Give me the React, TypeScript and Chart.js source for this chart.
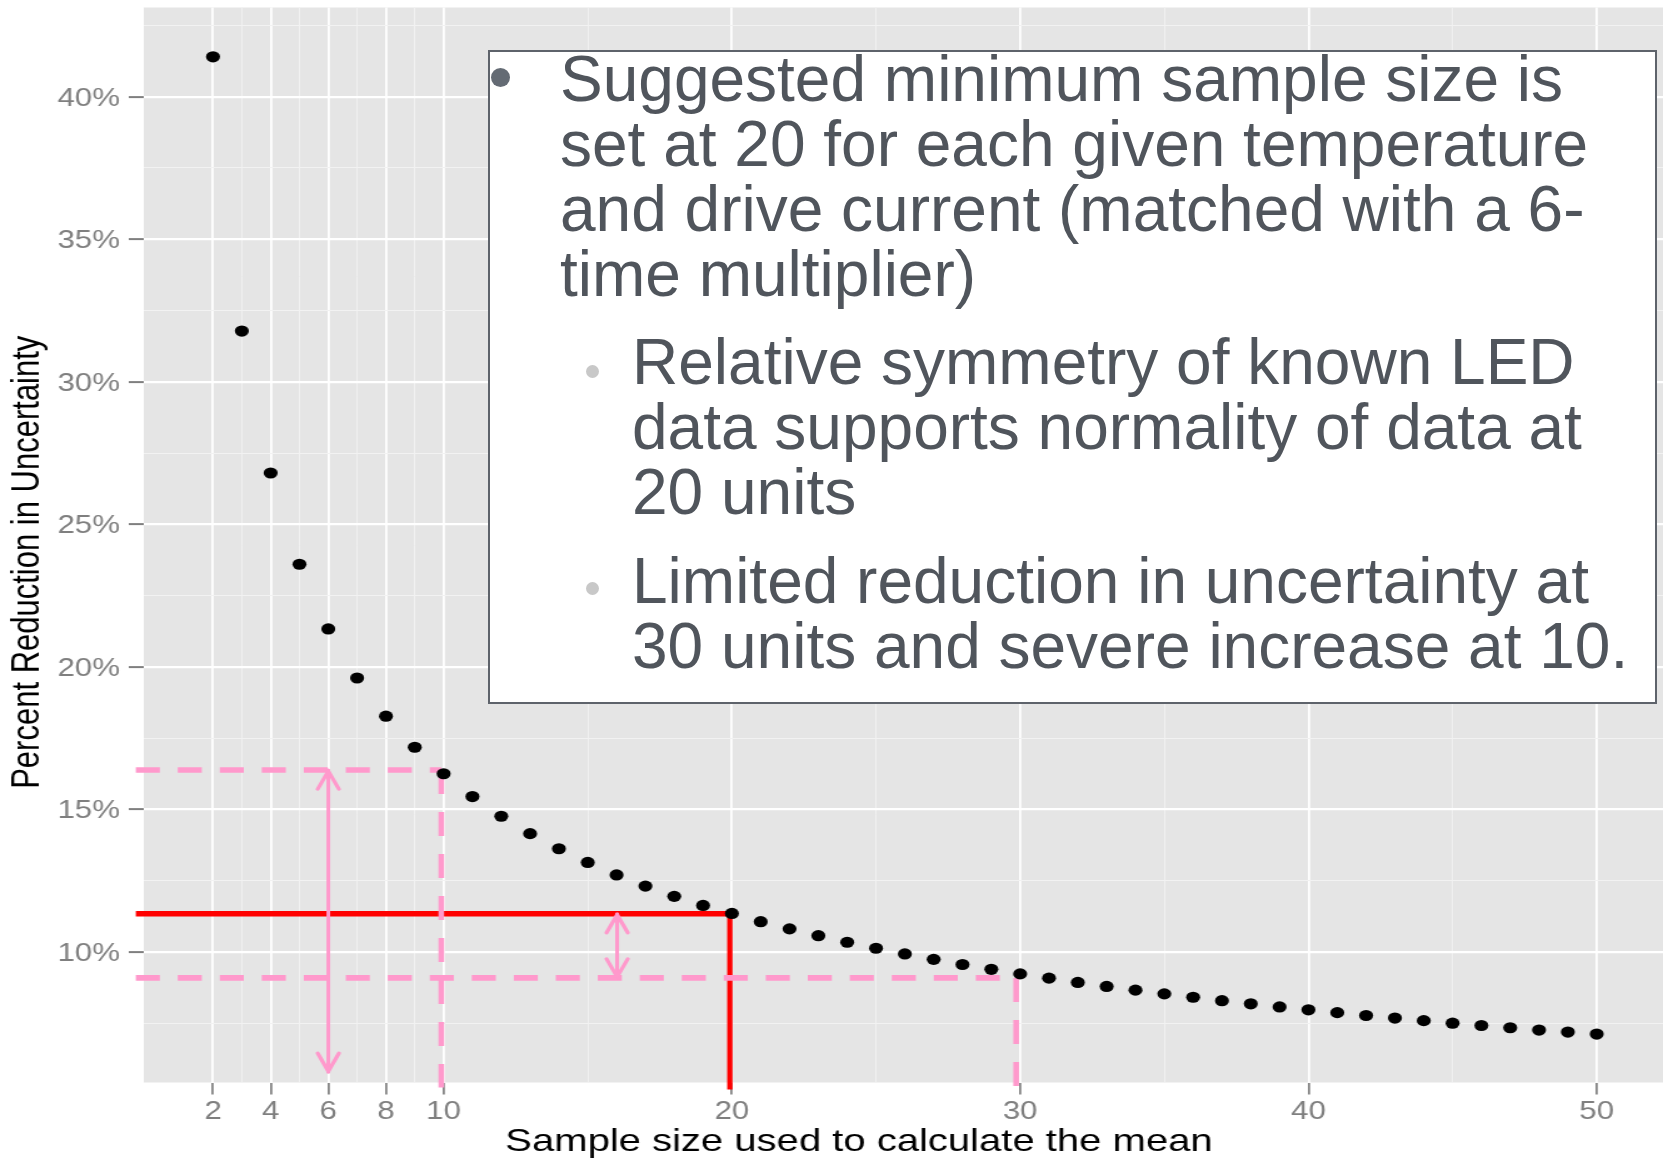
import React, { useEffect, useRef } from 'react';
import { Chart, registerables } from 'chart.js';

Chart.register(...registerables);

// ---------------- data ----------------
const sampleSizes = [
  2, 3, 4, 5, 6, 7, 8, 9, 10, 11, 12, 13, 14, 15, 16, 17, 18, 19, 20, 21, 22, 23, 24, 25, 26,
  27, 28, 29, 30, 31, 32, 33, 34, 35, 36, 37, 38, 39, 40, 41, 42, 43, 44, 45, 46, 47, 48, 49, 50,
];
const reductionPct = [
  41.4, 31.78, 26.8, 23.6, 21.33, 19.61, 18.27, 17.18, 16.25, 15.45, 14.76, 14.15, 13.62, 13.14,
  12.7, 12.31, 11.95, 11.63, 11.35, 11.06, 10.81, 10.57, 10.34, 10.13, 9.93, 9.74, 9.56, 9.39,
  9.23, 9.08, 8.93, 8.79, 8.66, 8.53, 8.41, 8.29, 8.18, 8.07, 7.97, 7.87, 7.77, 7.68, 7.59, 7.5,
  7.42, 7.34, 7.26, 7.19, 7.12,
];

const xMajorTicks = [2, 4, 6, 8, 10, 20, 30, 40, 50];
const xMinorTicks = [3, 5, 7, 9, 15, 25, 35, 45];
const yMajorTicks = [10, 15, 20, 25, 30, 35, 40];
const yMinorTicks = [7.5, 12.5, 17.5, 22.5, 27.5, 32.5, 37.5, 42.5];
const xAxisRange = [-0.4, 52.3];
const yAxisRange = [5.42, 43.13];

// guide lines: [upper pink dashed, red solid, lower pink dashed]
const guideLevels = [16.38, 11.34, 9.09];
const guideSizes = [9.92, 19.93, 29.86];
// double arrows
const arrowSizes = [6.0, 16.02];
const arrowTops = [16.38, 11.34];
const arrowBottoms = [5.78, 9.09];

const xTitle = 'Sample size used to calculate the mean';
const yTitle = 'Percent Reduction in Uncertainty';

const mainPoint = [
  'Suggested minimum sample size is',
  'set at 20 for each given temperature',
  'and drive current (matched with a 6-',
  'time multiplier)',
];
const subPoint1 = ['Relative symmetry of known LED', 'data supports normality of data at', '20 units'];
const subPoint2 = ['Limited reduction in uncertainty at', '30 units and severe increase at 10.'];

// ---------------- styling ----------------
const W = 1663;
const H = 1158;
const PRE_W = 1330;
const S = W / PRE_W; // horizontal stretch of the plotted image
const FONT = '"Liberation Sans", Arial, Helvetica, sans-serif';
const PINK = '#ff99cc';
const RED = '#ff0000';
const AXIS_GREY = '#7f7f7f';

const panelPlugin = {
  id: 'panelBg',
  beforeDraw(chart: any) {
    const { ctx, chartArea: a } = chart;
    ctx.save();
    ctx.fillStyle = '#e5e5e5';
    ctx.fillRect(a.left, a.top, a.right - a.left, a.bottom - a.top);
    ctx.restore();
  },
};

const guidesPlugin = {
  id: 'guides',
  beforeDatasetsDraw(chart: any) {
    const { ctx, chartArea: a, scales } = chart;
    const xs = scales.x;
    const ys = scales.y;
    const px = (v: number) => xs.getPixelForValue(v);
    const py = (v: number) => ys.getPixelForValue(v);
    const left = a.left - 8 / S;
    const below = a.bottom + 5;

    const seg = (x1: number, y1: number, x2: number, y2: number) => {
      ctx.beginPath();
      ctx.moveTo(x1, y1);
      ctx.lineTo(x2, y2);
      ctx.stroke();
    };

    ctx.save();
    ctx.lineCap = 'butt';

    // red solid guide
    ctx.setLineDash([]);
    ctx.strokeStyle = RED;
    ctx.lineWidth = 5.3;
    seg(left, py(guideLevels[1]), px(guideSizes[1]) + 2.2, py(guideLevels[1]));
    ctx.lineWidth = 5.3 / S;
    seg(px(guideSizes[1]), py(guideLevels[1]) - 2.65, px(guideSizes[1]), a.bottom + 7);

    // pink dashed guides
    ctx.strokeStyle = PINK;
    [0, 2].forEach((i) => {
      ctx.lineWidth = 5.6;
      ctx.setLineDash([24 / S, 18 / S]);
      seg(left, py(guideLevels[i]), px(guideSizes[i]), py(guideLevels[i]));
      ctx.lineWidth = 5.6 / S;
      ctx.setLineDash([24, 18]);
      seg(px(guideSizes[i]), py(guideLevels[i]), px(guideSizes[i]), below);
    });

    // pink double arrows
    ctx.setLineDash([]);
    ctx.lineJoin = 'round';
    ctx.lineCap = 'round';
    arrowSizes.forEach((v, i) => {
      const x = px(v);
      const yt = py(arrowTops[i]);
      const yb = py(arrowBottoms[i]);
      ctx.lineWidth = 3.0;
      seg(x, yt, x, yb);
      ctx.lineWidth = 3.2;
      ctx.beginPath();
      ctx.moveTo(x - 8.5, yt + 19);
      ctx.lineTo(x, yt + 1);
      ctx.lineTo(x + 8.5, yt + 19);
      ctx.stroke();
      ctx.beginPath();
      ctx.moveTo(x - 8.5, yb - 19);
      ctx.lineTo(x, yb - 1);
      ctx.lineTo(x + 8.5, yb - 19);
      ctx.stroke();
    });
    ctx.restore();
  },
};

const xTickValues = [...xMajorTicks, ...xMinorTicks].sort((a, b) => a - b);
const yTickValues = [...yMajorTicks, ...yMinorTicks].sort((a, b) => a - b);

export default function App() {
  const canvasRef = useRef<HTMLCanvasElement>(null);

  useEffect(() => {
    document.body.style.margin = '0';
    const canvas = canvasRef.current;
    if (!canvas) return;
    const chart = new Chart(canvas, {
      type: 'scatter',
      data: {
        datasets: [
          {
            label: 'Percent reduction',
            data: sampleSizes.map((n, i) => ({ x: n, y: reductionPct[i] })),
            backgroundColor: '#000000',
            borderColor: '#000000',
            borderWidth: 0,
            pointRadius: 5.6,
            pointHoverRadius: 5.6,
            showLine: false,
          },
        ],
      },
      options: {
        animation: false,
        responsive: false,
        devicePixelRatio: 1,
        events: [],
        layout: { autoPadding: false, padding: { top: 7.5, right: 0, bottom: 0, left: 0 } },
        plugins: {
          legend: { display: false },
          tooltip: { enabled: false },
          title: { display: false },
        },
        scales: {
          x: {
            type: 'linear',
            bounds: 'data',
            min: xAxisRange[0],
            max: xAxisRange[1],
            afterBuildTicks: (s: any) => {
              s.ticks = xTickValues.map((v) => ({ value: v }));
            },
            afterFit: (s: any) => {
              s.height = 75.5;
              s.paddingLeft = 0;
              s.paddingRight = 0;
            },
            border: { display: false },
            grid: {
              color: (c: any) => (xMajorTicks.includes(c.tick?.value) ? '#ffffff' : '#f2f2f2'),
              lineWidth: (c: any) => (xMajorTicks.includes(c.tick?.value) ? 1.8 : 0.9),
              drawTicks: true,
              tickLength: 12,
              tickWidth: 1.7,
              tickColor: (c: any) => (xMajorTicks.includes(c.tick?.value) ? AXIS_GREY : 'rgba(0,0,0,0)'),
            },
            ticks: {
              autoSkip: false,
              maxRotation: 0,
              minRotation: 0,
              padding: 3,
              color: AXIS_GREY,
              font: { family: FONT, size: 25 },
              callback: (v: any) => (xMajorTicks.includes(Number(v)) ? String(v) : ''),
            },
            title: {
              display: true,
              text: xTitle + '        ',
              color: '#000000',
              font: { family: FONT, size: 32, lineHeight: 1 },
              padding: { top: 0, bottom: 0 },
            },
          },
          y: {
            type: 'linear',
            bounds: 'data',
            min: yAxisRange[0],
            max: yAxisRange[1],
            afterBuildTicks: (s: any) => {
              s.ticks = yTickValues.map((v) => ({ value: v }));
            },
            afterFit: (s: any) => {
              s.width = 115;
              s.paddingTop = 0;
              s.paddingBottom = 0;
            },
            border: { display: false },
            grid: {
              color: (c: any) => (yMajorTicks.includes(c.tick?.value) ? '#ffffff' : '#f2f2f2'),
              lineWidth: (c: any) => (yMajorTicks.includes(c.tick?.value) ? 2.2 : 1.1),
              drawTicks: true,
              tickLength: 12,
              tickWidth: 2,
              tickColor: (c: any) => (yMajorTicks.includes(c.tick?.value) ? AXIS_GREY : 'rgba(0,0,0,0)'),
            },
            ticks: {
              autoSkip: false,
              padding: 7,
              labelOffset: 2,
              color: AXIS_GREY,
              font: { family: FONT, size: 25 },
              callback: (v: any) => (yMajorTicks.includes(Number(v)) ? `${v}%` : ''),
            },
            title: {
              display: true,
              text: yTitle + '    ',
              color: '#000000',
              font: { family: FONT, size: 31, lineHeight: 1 },
              padding: { top: 7, bottom: 0 },
            },
          },
        },
      },
      plugins: [panelPlugin, guidesPlugin],
    } as any);
    return () => chart.destroy();
  }, []);

  const textStyle: React.CSSProperties = {
    position: 'absolute',
    fontFamily: FONT,
    fontSize: 64,
    lineHeight: '65px',
    color: '#50555c',
    whiteSpace: 'nowrap',
    margin: 0,
  };
  const dot = (cx: number, cy: number, r: number, color: string): React.CSSProperties => ({
    position: 'absolute',
    left: cx - r,
    top: cy - r,
    width: r * 2,
    height: r * 2,
    borderRadius: '50%',
    background: color,
  });

  return (
    <div
      style={{
        position: 'absolute',
        left: 0,
        top: 0,
        width: W,
        height: H,
        overflow: 'hidden',
        background: '#ffffff',
      }}
    >
      <div
        style={{
          position: 'absolute',
          left: 0,
          top: 0,
          width: PRE_W,
          height: H,
          transform: `scaleX(${S})`,
          transformOrigin: '0 0',
        }}
      >
        <canvas ref={canvasRef} width={PRE_W} height={H} style={{ display: 'block' }} />
      </div>

      <div
        style={{
          position: 'absolute',
          left: 488,
          top: 50,
          width: 1169,
          height: 654,
          boxSizing: 'border-box',
          border: '2px solid #5e636b',
          background: '#ffffff',
        }}
      />
      <div style={dot(500, 77.5, 9.5, '#646b74')} />
      <div style={{ ...textStyle, left: 560, top: 47 }}>
        {mainPoint.map((l, i) => (
          <div key={i}>{l}</div>
        ))}
      </div>
      <div style={dot(592, 371, 6.5, '#c8c8c8')} />
      <div style={{ ...textStyle, left: 632, top: 330.3 }}>
        {subPoint1.map((l, i) => (
          <div key={i}>{l}</div>
        ))}
      </div>
      <div style={dot(592, 588, 6.5, '#c8c8c8')} />
      <div style={{ ...textStyle, left: 632, top: 548.6 }}>
        {subPoint2.map((l, i) => (
          <div key={i}>{l}</div>
        ))}
      </div>
    </div>
  );
}
